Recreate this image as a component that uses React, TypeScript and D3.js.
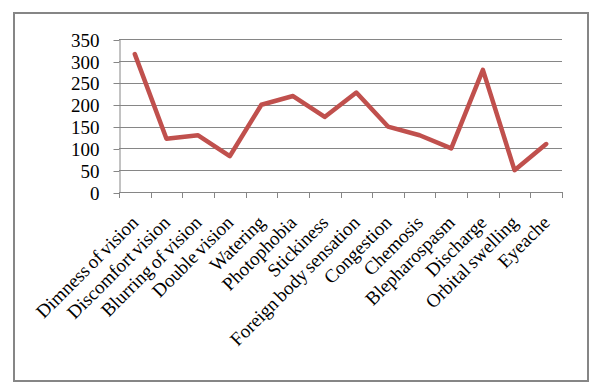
import React, { useRef, useEffect } from 'react';
import * as d3 from 'd3';

const categories = [
  'Dimness of vision', 'Discomfort vision', 'Blurring of vision', 'Double vision',
  'Watering', 'Photophobia', 'Stickiness', 'Foreign body sensation', 'Congestion',
  'Chemosis', 'Blepharospasm', 'Discharge', 'Orbital swelling', 'Eyeache',
];
const values = [316, 122, 130, 82, 200, 220, 172, 228, 150, 130, 100, 280, 50, 110];
const yTicks = [0, 50, 100, 150, 200, 250, 300, 350];

const W = 602, H = 392;
const plot = { left: 119, right: 562, top: 39.3, bottom: 192 };
const font = '"Liberation Serif", "Times New Roman", serif';
const fs = 19;

const App = () => {
  const ref = useRef<SVGGElement>(null);

  useEffect(() => {
    const g = d3.select(ref.current);
    g.selectAll('*').remove();

    const x = d3.scaleBand().domain(categories).range([plot.left, plot.right]);
    const y = d3.scaleLinear().domain([0, 350]).range([plot.bottom, plot.top]);

    // gridlines
    g.append('g')
      .selectAll('line')
      .data(yTicks.filter(d => d > 0))
      .enter()
      .append('line')
      .attr('x1', plot.left).attr('x2', plot.right)
      .attr('y1', d => Math.round(y(d)) + 0.5).attr('y2', d => Math.round(y(d)) + 0.5)
      .attr('stroke', '#868686').attr('stroke-width', 1);

    // y axis
    const yAxis = g.append('g').attr('transform', `translate(${plot.left + 0.5},0)`)
      .call(d3.axisLeft(y).tickValues(yTicks).tickSize(6).tickSizeOuter(0).tickPadding(14));
    yAxis.select('.domain').attr('stroke', '#868686');
    yAxis.selectAll('line').attr('stroke', '#868686');
    yAxis.selectAll('text')
      .attr('font-family', font).attr('font-size', fs).attr('fill', '#000');
    yAxis.selectAll('.tick').each(function () {
      d3.select(this).attr('transform', (d3.select(this).attr('transform') || '').replace(/,([\d.]+)\)/, (m, v) => `,${Math.round(+v) + 0.5})`));
    });

    // x axis line and ticks at category boundaries
    const xg = g.append('g');
    xg.append('line')
      .attr('x1', plot.left).attr('x2', plot.right)
      .attr('y1', plot.bottom + 0.5).attr('y2', plot.bottom + 0.5)
      .attr('stroke', '#868686');
    const bounds = categories.map(c => x(c)!).concat([plot.right]);
    xg.selectAll('line.tk')
      .data(bounds)
      .enter()
      .append('line')
      .attr('class', 'tk')
      .attr('x1', d => Math.round(d) + 0.5).attr('x2', d => Math.round(d) + 0.5)
      .attr('y1', plot.bottom).attr('y2', plot.bottom + 6)
      .attr('stroke', '#868686');

    // category labels
    xg.selectAll('text')
      .data(categories)
      .enter()
      .append('text')
      .attr('transform', d => `translate(${x(d)! + x.bandwidth() / 2},${plot.bottom + 27}) rotate(-45)`)
      .attr('text-anchor', 'end')
      .attr('dy', '0.35em')
      .attr('word-spacing', -1.5)
      .attr('font-family', font).attr('font-size', fs).attr('fill', '#000')
      .text(d => d);

    // line
    const line = d3.line<number>()
      .x((d, i) => x(categories[i])! + x.bandwidth() / 2)
      .y(d => y(d));
    g.append('path')
      .datum(values)
      .attr('d', line)
      .attr('fill', 'none')
      .attr('stroke', '#C0504D')
      .attr('stroke-width', 4.5)
      .attr('stroke-linejoin', 'round')
      .attr('stroke-linecap', 'round');
  }, []);

  return (
    <svg width={W} height={H} style={{ position: 'absolute', left: 0, top: 0, background: '#fff' }}>
      <rect x={0} y={0} width={W} height={H} fill="#fff" />
      <rect x={14} y={13} width={574} height={368} fill="#fff" stroke="#868686" strokeWidth={2} />
      <g ref={ref} />
    </svg>
  );
};

export default App;
